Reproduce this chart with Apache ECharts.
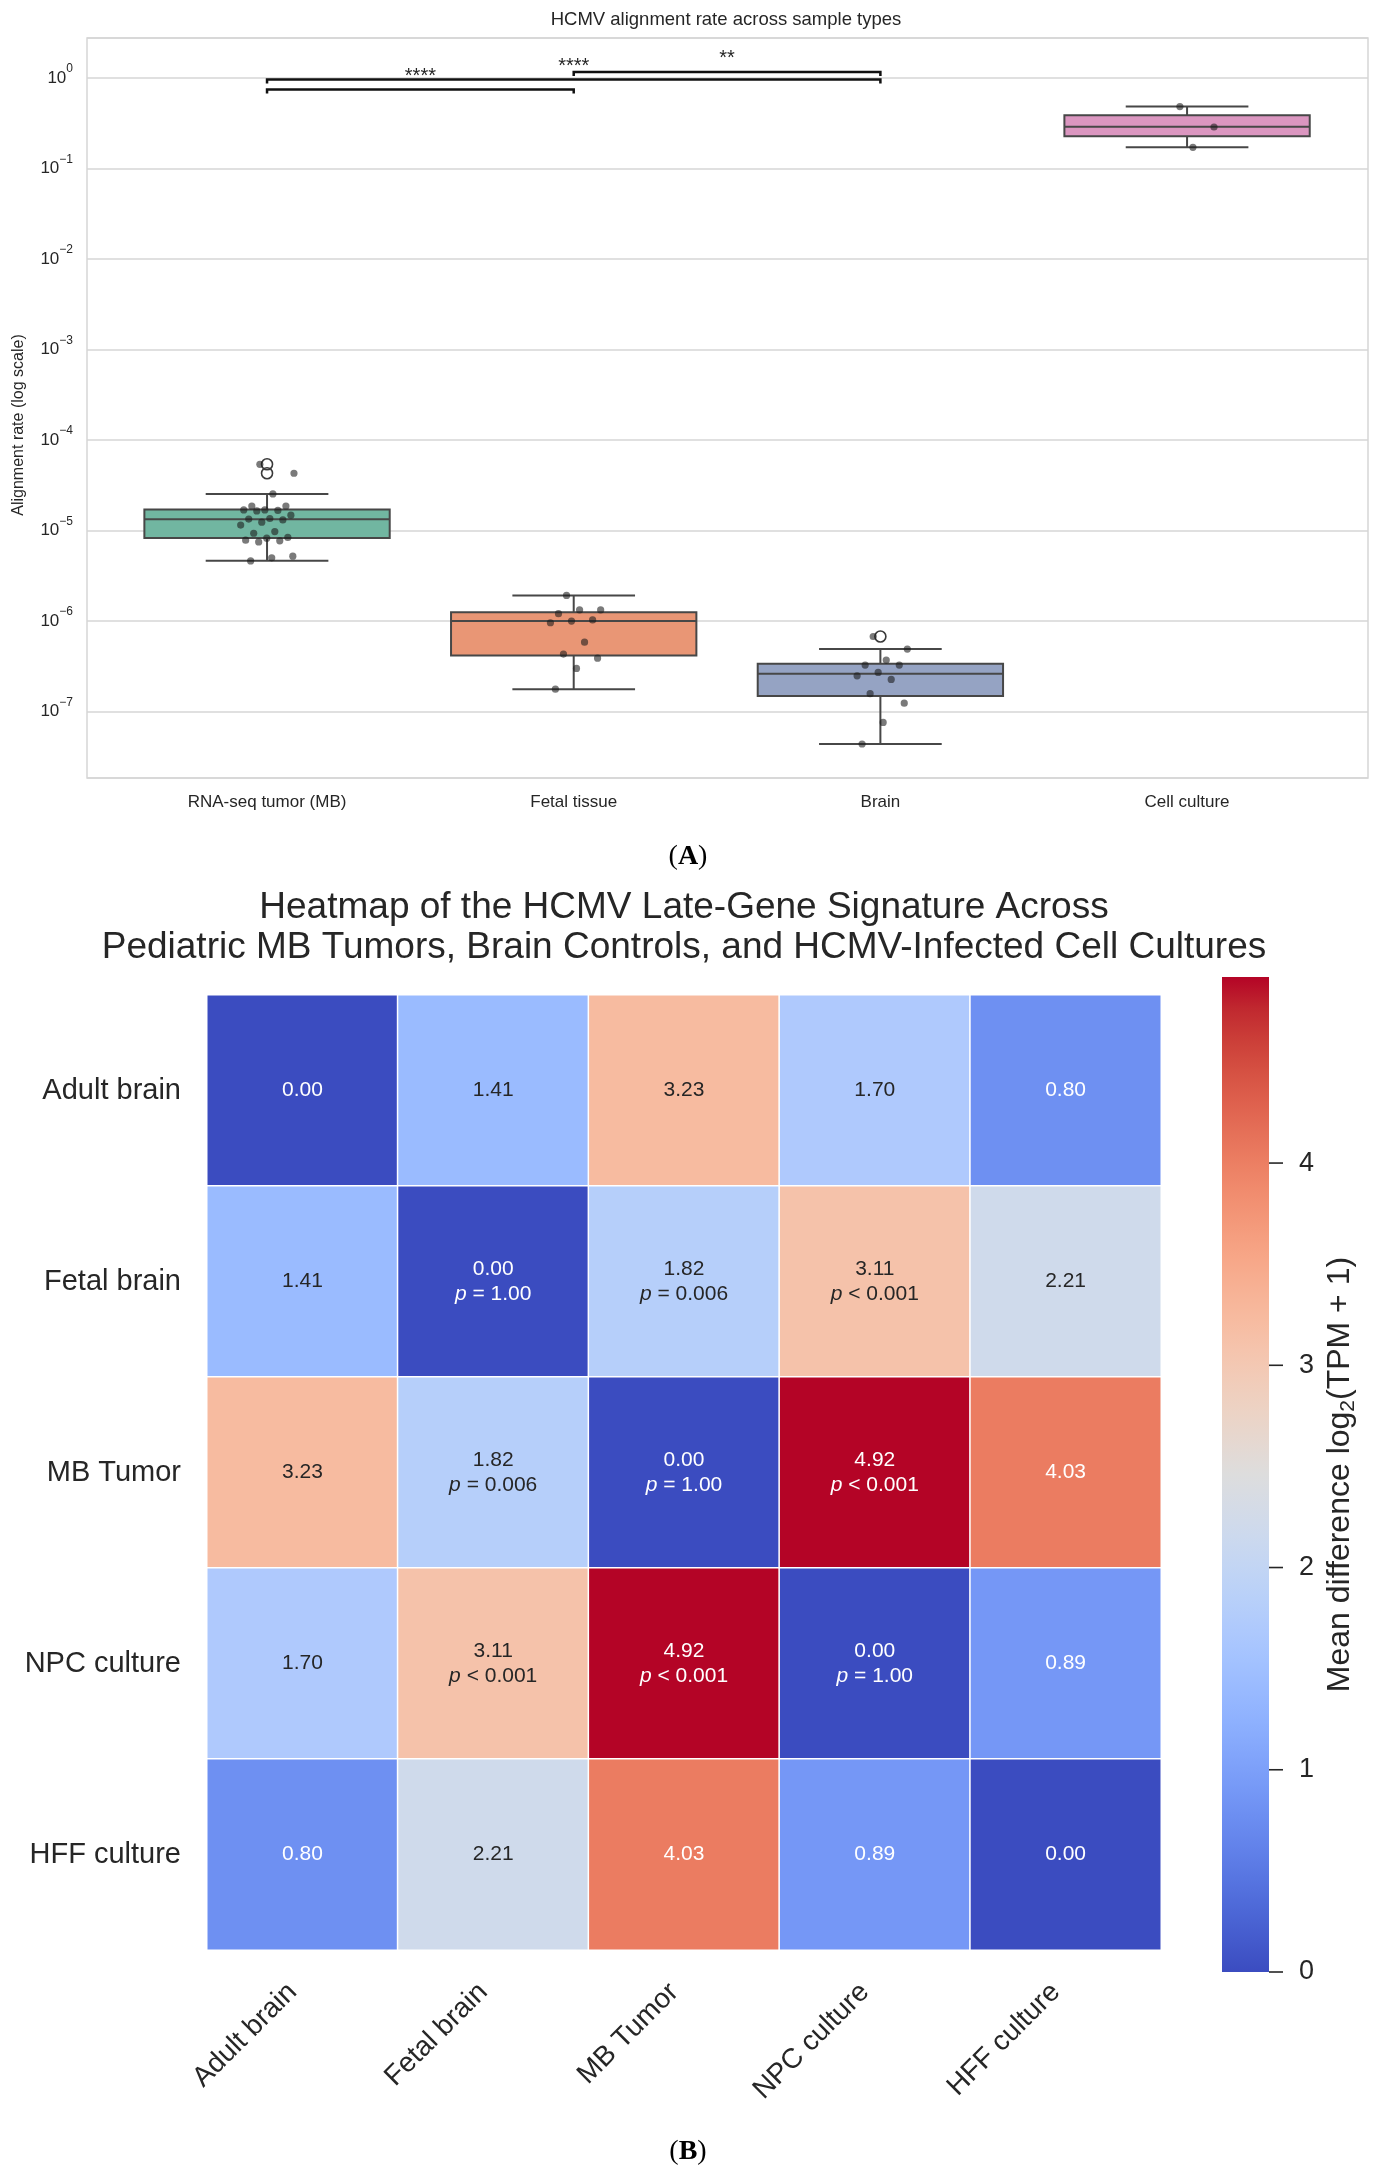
<!DOCTYPE html>
<html><head><meta charset="utf-8">
<script src="https://cdn.jsdelivr.net/npm/echarts@6/dist/echarts.min.js"></script>
<style>html,body{margin:0;padding:0;background:#fff}#main{width:1379px;height:2174px}</style>
</head><body><div id="main"></div>
<script>
// ---------- Panel A data ----------
const sampleTypes = ['RNA-seq tumor (MB)', 'Fetal tissue', 'Brain', 'Cell culture'];
// [lower whisker, Q1, median, Q3, upper whisker]
const boxStats = [
  [4.63e-6, 8.3e-6, 1.336e-5, 1.706e-5, 2.54e-5],
  [1.77e-7, 4.17e-7, 1.0e-6, 1.256e-6, 1.92e-6],
  [4.39e-8, 1.49e-7, 2.62e-7, 3.38e-7, 4.91e-7],
  [0.172, 0.227, 0.288, 0.388, 0.483]
];
const fliers = [[5.4e-5, 4.3e-5], [], [6.76e-7], []];
const rnaTumorPoints = [5.4e-5, 4.3e-5, 2.54e-5, 1.87e-5, 1.87e-5, 1.69e-5, 1.69e-5, 1.67e-5, 1.65e-5, 1.48e-5, 1.36e-5, 1.34e-5, 1.31e-5, 1.24e-5, 1.15e-5, 9.75e-6, 9.35e-6, 8.4e-6, 8.24e-6, 7.83e-6, 7.7e-6, 7.5e-6, 5.21e-6, 5.0e-6, 4.62e-6];
const fetalTissuePoints = [1.92e-6, 1.33e-6, 1.33e-6, 1.21e-6, 1.03e-6, 1.0e-6, 9.6e-7, 5.86e-7, 4.32e-7, 3.9e-7, 3.0e-7, 1.77e-7];
const brainPoints = [6.76e-7, 4.91e-7, 3.71e-7, 3.27e-7, 3.27e-7, 2.71e-7, 2.49e-7, 2.27e-7, 1.58e-7, 1.24e-7, 7.6e-8, 4.39e-8];
const cellCulturePoints = [0.483, 0.287, 0.171];
const bracketPairs = [[0, 1], [0, 2], [1, 2]];
const bracketLevels = [0.745, 0.96, 1.165];
const bracketStars = ['****', '****', '**'];

// ---------- Panel B data ----------
const groups = ['Adult brain', 'Fetal brain', 'MB Tumor', 'NPC culture', 'HFF culture'];
const meanDiff = [
  [0.00, 1.41, 3.23, 1.70, 0.80],
  [1.41, 0.00, 1.82, 3.11, 2.21],
  [3.23, 1.82, 0.00, 4.92, 4.03],
  [1.70, 3.11, 4.92, 0.00, 0.89],
  [0.80, 2.21, 4.03, 0.89, 0.00]
];
const pText = [
  [null, null, null, null, null],
  [null, '= 1.00', '= 0.006', '< 0.001', null],
  [null, '= 0.006', '= 1.00', '< 0.001', null],
  [null, '< 0.001', '< 0.001', '= 1.00', null],
  [null, null, null, null, null]
];
const colorbarTicks = [0, 1, 2, 3, 4];

// ---------- styles ----------
const FONT = "'Liberation Sans', Arial, Helvetica, sans-serif";
const SERIF = "'Liberation Serif', 'Times New Roman', serif";
const TXT = '#262626';
const Y_MIN = 1.85e-8, Y_MAX = 2.76;
const CB_MAX = Math.max(...meanDiff.flat());
const boxColors = ['#71b6a1', '#e99675', '#95a3c3', '#db96c0'];
const EDGE = '#474747';
const coolwarm = [[59,76,192],[68,90,204],[77,104,215],[87,117,225],[98,130,234],[108,142,241],[119,154,247],[130,165,251],[141,176,254],[152,185,255],[163,194,255],[174,201,253],[184,208,249],[194,213,244],[204,217,238],[213,219,230],[221,221,221],[229,216,209],[236,211,197],[241,204,185],[245,196,173],[247,187,160],[247,177,148],[247,166,135],[244,154,123],[241,141,111],[236,127,99],[229,112,88],[222,96,77],[213,80,66],[203,62,56],[192,40,47],[180,4,38]];
const hex = c => '#' + c.map(v => Math.round(v).toString(16).padStart(2, '0')).join('');
function cmap(t) {
  t = Math.max(0, Math.min(1, t));
  const f = t * (coolwarm.length - 1), i = Math.min(Math.floor(f), coolwarm.length - 2), r = f - i;
  return coolwarm[i].map((v, k) => v + (coolwarm[i + 1][k] - v) * r);
}
function isDark(rgb) {
  const lin = rgb.map(v => { v /= 255; return v <= 0.03928 ? v / 12.92 : Math.pow((v + 0.055) / 1.055, 2.4); });
  return 0.2126 * lin[0] + 0.7152 * lin[1] + 0.0722 * lin[2] <= 0.408;
}

// ---------- series data ----------
const boxData = boxStats.map((s, i) => [i].concat(s));
const allPoints = [rnaTumorPoints, fetalTissuePoints, brainPoints, cellCulturePoints];
const stripData = [];
allPoints.forEach((arr, i) => arr.forEach((v, k) => stripData.push([i, v, k])));
const flierData = [];
fliers.forEach((arr, i) => arr.forEach(v => flierData.push([i, v])));
const bracketData = bracketPairs.map((p, i) => [p[0], bracketLevels[i], p[1], i]);

const heatData = [];
meanDiff.forEach((row, r) => row.forEach((v, c) => {
  const dark = isDark(cmap(v / CB_MAX));
  heatData.push({ value: [c, r, v], p: pText[r][c], dark: dark, label: { color: dark ? '#ffffff' : TXT } });
}));

function bandOf(api) { return api.coord([1, 1])[0] - api.coord([0, 1])[0]; }

function renderBox(params, api) {
  const i = api.value(0);
  const lo = api.coord([i, api.value(1)]), q1 = api.coord([i, api.value(2)]), md = api.coord([i, api.value(3)]),
        q3 = api.coord([i, api.value(4)]), hi = api.coord([i, api.value(5)]);
  const bw = bandOf(api), half = bw * 0.4, cap = bw * 0.2, x = lo[0];
  const ls = { stroke: EDGE, lineWidth: 2, fill: null };
  return { type: 'group', children: [
    { type: 'line', shape: { x1: x, y1: q3[1], x2: x, y2: hi[1] }, style: ls },
    { type: 'line', shape: { x1: x, y1: q1[1], x2: x, y2: lo[1] }, style: ls },
    { type: 'line', shape: { x1: x - cap, y1: hi[1], x2: x + cap, y2: hi[1] }, style: ls },
    { type: 'line', shape: { x1: x - cap, y1: lo[1], x2: x + cap, y2: lo[1] }, style: ls },
    { type: 'rect', shape: { x: x - half, y: q3[1], width: 2 * half, height: q1[1] - q3[1] }, style: { fill: boxColors[i], stroke: EDGE, lineWidth: 2 } },
    { type: 'line', shape: { x1: x - half, y1: md[1], x2: x + half, y2: md[1] }, style: ls }
  ]};
}
function renderStrip(params, api) {
  const i = api.value(0), k = api.value(2);
  const p = api.coord([i, api.value(1)]);
  const j = ((k * 0.6180339887 + 0.37) % 1) * 2 - 1;
  return { type: 'circle', shape: { cx: p[0] + j * 0.09 * bandOf(api), cy: p[1], r: 3.6 }, style: { fill: 'rgba(25,25,25,0.58)' } };
}
function renderFlier(params, api) {
  const p = api.coord([api.value(0), api.value(1)]);
  return { type: 'circle', shape: { cx: p[0], cy: p[1], r: 5.5 }, style: { fill: 'none', stroke: '#3a3a3a', lineWidth: 1.6 } };
}
function renderBracket(params, api) {
  const a = api.coord([api.value(0), api.value(1)]), b = api.coord([api.value(2), api.value(1)]);
  const t = bracketStars[api.value(3)];
  return { type: 'group', children: [
    { type: 'polyline', shape: { points: [[a[0], a[1] + 4], [a[0], a[1]], [b[0], b[1]], [b[0], b[1] + 4]] }, style: { stroke: '#111', lineWidth: 2.5, fill: null } },
    { type: 'text', x: (a[0] + b[0]) / 2, y: a[1] - 3, style: { text: t, align: 'center', verticalAlign: 'bottom', fontSize: 20, fontFamily: FONT, fill: TXT } }
  ]};
}
function renderColorbar(params, api) {
  const p0 = api.coord([0, 0]), p1 = api.coord([1, CB_MAX]);
  const stops = coolwarm.map((c, i) => ({ offset: i / (coolwarm.length - 1), color: hex(c) }));
  const children = [{ type: 'rect', shape: { x: p0[0], y: p1[1], width: p1[0] - p0[0], height: p0[1] - p1[1] },
    style: { fill: new echarts.graphic.LinearGradient(0, 1, 0, 0, stops) } }];
  colorbarTicks.forEach(t => {
    const p = api.coord([1, t]);
    children.push({ type: 'line', shape: { x1: p[0], y1: p[1], x2: p[0] + 14, y2: p[1] }, style: { stroke: TXT, lineWidth: 1.6 } });
  });
  return { type: 'group', children: children };
}

const chart = echarts.init(document.getElementById('main'), null, { renderer: 'canvas' });
const option = {
  animation: false,
  backgroundColor: '#ffffff',
  textStyle: { fontFamily: FONT },
  grid: [
    { left: 87, top: 38, width: 1281, height: 740, show: true, borderColor: '#d6d6d6', borderWidth: 1.5, backgroundColor: 'transparent' },
    { left: 113.7, top: 38, width: 1226.7, height: 740 },
    { left: 207, top: 995, width: 954, height: 955 },
    { left: 1222, top: 977, width: 47, height: 995 }
  ],
  xAxis: [
    { gridIndex: 0, type: 'value', min: 0, max: 1, show: false },
    { gridIndex: 1, type: 'category', data: sampleTypes, boundaryGap: true, axisLine: { show: false }, axisTick: { show: false },
      axisLabel: { fontSize: 17, color: TXT, margin: 16, fontFamily: FONT } },
    { gridIndex: 2, type: 'category', data: groups, axisLine: { show: false }, axisTick: { show: false },
      axisLabel: { rotate: 45, fontSize: 28, color: TXT, margin: 28, padding: [0, 14, 0, 0], fontFamily: FONT } },
    { gridIndex: 3, type: 'value', min: 0, max: 1, show: false }
  ],
  yAxis: [
    { gridIndex: 0, type: 'log', logBase: 10, min: Y_MIN, max: Y_MAX,
      axisLine: { show: false }, axisTick: { show: false },
      splitLine: { show: true, lineStyle: { color: '#d6d6d6', width: 1.5 } },
      axisLabel: { fontSize: 17, color: TXT, margin: 14, lineHeight: 30, fontFamily: FONT,
        formatter: v => { const e = Math.log10(v); if (Math.abs(e - Math.round(e)) > 1e-6) return ''; const n = Math.round(e); return '10{s|' + (n < 0 ? '\u2212' + (-n) : n) + '}'; },
        rich: { s: { fontSize: 12, lineHeight: 13, verticalAlign: 'top', color: TXT, fontFamily: FONT } } },
      name: 'Alignment rate (log scale)', nameLocation: 'middle', nameGap: 60,
      nameTextStyle: { fontSize: 16, color: TXT, fontFamily: FONT, padding: [0, 34, 0, 0] } },
    { gridIndex: 1, type: 'log', logBase: 10, min: Y_MIN, max: Y_MAX, show: false, splitLine: { show: false } },
    { gridIndex: 2, type: 'category', data: groups, inverse: true, axisLine: { show: false }, axisTick: { show: false },
      axisLabel: { fontSize: 29, color: TXT, margin: 26, fontFamily: FONT } },
    { gridIndex: 3, type: 'value', min: 0, max: CB_MAX, position: 'right', axisLine: { show: false },
      splitLine: { show: false }, axisTick: { show: false },
      axisLabel: { fontSize: 27, color: TXT, margin: 30, fontFamily: FONT, customValues: colorbarTicks },
      name: 'Mean difference log{sub|2}(TPM + 1)', nameLocation: 'middle', nameRotate: 90, nameGap: 52,
      nameTextStyle: { fontSize: 32, color: TXT, fontFamily: FONT, rich: { sub: { fontSize: 21, verticalAlign: 'bottom', lineHeight: 38, color: TXT, fontFamily: FONT } } } }
  ],
  visualMap: {
    type: 'continuous', show: false, min: 0, max: CB_MAX, dimension: 2, seriesIndex: 4,
    inRange: { color: coolwarm.map(hex) }
  },
  series: [
    { type: 'custom', xAxisIndex: 1, yAxisIndex: 1, renderItem: renderBox, data: boxData, encode: { x: 0, y: [1, 2, 3, 4, 5] }, z: 2 },
    { type: 'custom', xAxisIndex: 1, yAxisIndex: 1, renderItem: renderFlier, data: flierData, encode: { x: 0, y: 1 }, z: 3 },
    { type: 'custom', xAxisIndex: 1, yAxisIndex: 1, renderItem: renderStrip, data: stripData, encode: { x: 0, y: 1 }, z: 4 },
    { type: 'custom', xAxisIndex: 1, yAxisIndex: 1, renderItem: renderBracket, data: bracketData, encode: { x: [0, 2], y: 1 }, z: 5 },
    { type: 'heatmap', xAxisIndex: 2, yAxisIndex: 2, data: heatData,
      itemStyle: { borderColor: '#ffffff', borderWidth: 1.5 },
      emphasis: { disabled: true },
      label: { show: true, fontSize: 21, lineHeight: 25, fontFamily: FONT, align: 'center',
        formatter: p => { const d = p.data; let s = d.value[2].toFixed(2); if (d.p) s += '\n{' + (d.dark ? 'pw' : 'pb') + '|p} ' + d.p; return s; },
        rich: { pw: { fontStyle: 'italic', color: '#ffffff', fontSize: 21, lineHeight: 25, fontFamily: FONT },
                pb: { fontStyle: 'italic', color: TXT, fontSize: 21, lineHeight: 25, fontFamily: FONT } } } },
    { type: 'custom', xAxisIndex: 3, yAxisIndex: 3, renderItem: renderColorbar, data: [[0, 0]], encode: { x: 0, y: 1 } }
  ],
  graphic: [
    { type: 'text', x: 726, y: 20, style: { text: 'HCMV alignment rate across sample types', align: 'center', verticalAlign: 'middle', fontSize: 18.5, fontFamily: FONT, fill: TXT } },
    { type: 'text', x: 688, y: 857, style: { text: '({b|A})', align: 'center', verticalAlign: 'middle', fontSize: 28, fontFamily: SERIF, fill: '#000',
      rich: { b: { fontSize: 28, fontWeight: 'bold', fontFamily: SERIF, fill: '#000' } } } },
    { type: 'text', x: 684, y: 928, style: { text: 'Heatmap of the HCMV Late-Gene Signature Across\nPediatric MB Tumors, Brain Controls, and HCMV-Infected Cell Cultures', align: 'center', verticalAlign: 'middle', fontSize: 37, lineHeight: 40, fontFamily: FONT, fill: TXT } },
    { type: 'text', x: 688, y: 2152, style: { text: '({b|B})', align: 'center', verticalAlign: 'middle', fontSize: 28, fontFamily: SERIF, fill: '#000',
      rich: { b: { fontSize: 28, fontWeight: 'bold', fontFamily: SERIF, fill: '#000' } } } }
  ]
};
chart.setOption(option);
</script>
</body></html>
